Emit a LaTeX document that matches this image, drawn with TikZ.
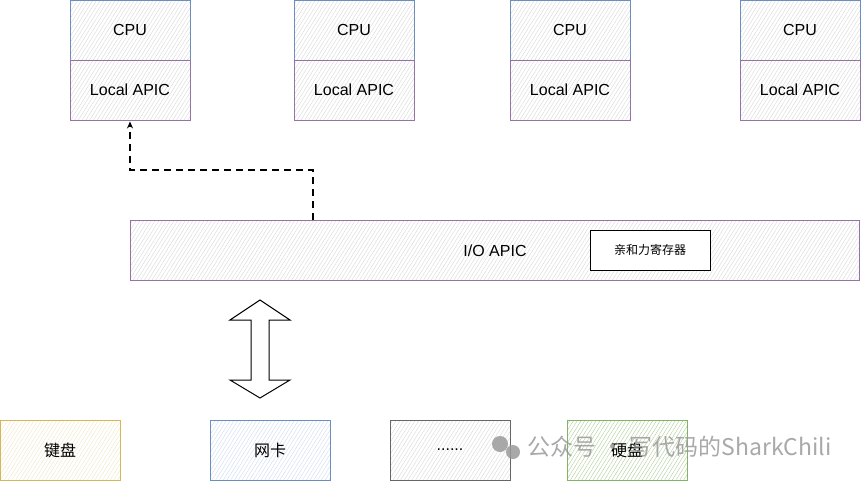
\documentclass[tikz,border=0pt]{standalone}
\usepackage{fontspec}
\setmainfont{Liberation Sans}
\newfontfamily\cjk{Noto Sans CJK SC}
\usetikzlibrary{patterns.meta,arrows.meta}
\definecolor{cblue}{HTML}{6C8EBF}
\definecolor{cpurple}{HTML}{9673A6}
\definecolor{cyellow}{HTML}{D6B656}
\definecolor{cgreen}{HTML}{82B366}
\definecolor{cgray}{HTML}{666666}
\definecolor{hgray}{HTML}{D4D4D4}
\definecolor{hblue}{HTML}{C8D8F0}
\definecolor{hyellow}{HTML}{EFE3BE}
\definecolor{hgreen}{HTML}{A8C890}
\definecolor{wm}{HTML}{9A9A9A}
\tikzset{
  hatch/.style={pattern={Lines[angle=58,distance=3.2pt,line width=0.35pt]},pattern color=#1},
  unit/.style={draw=#1,line width=0.9pt,minimum width=120pt,minimum height=60pt,inner sep=0pt,text depth=0pt,font=\fontsize{16}{19}\selectfont},
  devbox/.style={draw=#1,line width=0.9pt,minimum width=120pt,minimum height=60pt,inner sep=0pt,font=\cjk\fontsize{16}{19}\selectfont},
  dasharrow/.style={draw=black,line width=1.2pt,dash pattern=on 7pt off 5pt,-{Stealth[length=7pt,width=6pt]}},
  bigarrow/.style={draw=black,line width=1pt,fill=white,line join=miter},
}
\begin{document}
\begin{tikzpicture}[x=1pt,y=-1pt]
\useasboundingbox (0,0) rectangle (861,481);
% CPUs
\foreach \i/\x in {1/130,2/354,3/570,4/800}{
  \node[unit=cblue,hatch=hgray] (cpu\i) at (\x,30) {CPU};
  \node[unit=cpurple,hatch=hgray] (lapic\i) at (\x,90) {Local APIC};
}
% I/O APIC
\node[unit=cpurple,hatch=hgray,minimum width=729pt] (ioapic) at (495,250) {};
\node[font=\fontsize{16}{19}\selectfont] (iolabel) at (495,251) {I/O APIC};
\node[draw=black,line width=1pt,fill=white,minimum width=120pt,minimum height=40pt,inner sep=0pt,font=\cjk\fontsize{12}{14}\selectfont] (aff) at (650,250) {亲和力寄存器};
% dashed arrow
\coordinate (bend) at (313,170);
\draw[dasharrow,shorten >=1pt] (ioapic.north -| bend) -- (bend) -| (lapic1.south);
% double arrow
\draw[bigarrow] (260,300) -- (290,320) -- (269,320) -- (269,380) -- (290,380) -- (260,398) -- (230,380) -- (251,380) -- (251,320) -- (230,320) -- cycle;
% devices
\node[devbox=cyellow,hatch=hyellow] (kb) at (60,450) {键盘};
\node[devbox=cblue,hatch=hblue] (nic) at (270,450) {网卡};
\node[devbox=cgray,hatch=hgray,font=\fontsize{16}{19}\selectfont] (dots) at (450,450) {......};
\node[devbox=cgreen,hatch=hgreen] (hdd) at (627,450) {硬盘};
% watermark
\fill[wm,opacity=0.85] (500,444) circle (8pt);
\fill[wm,opacity=0.85] (513,452) circle (7pt);
\node[anchor=west,text=wm,opacity=0.85,font=\cjk\fontsize{23}{26}\selectfont,inner sep=0pt] (wmark) at (527,447) {公众号 · 写代码的SharkChili};
\end{tikzpicture}
\end{document}
